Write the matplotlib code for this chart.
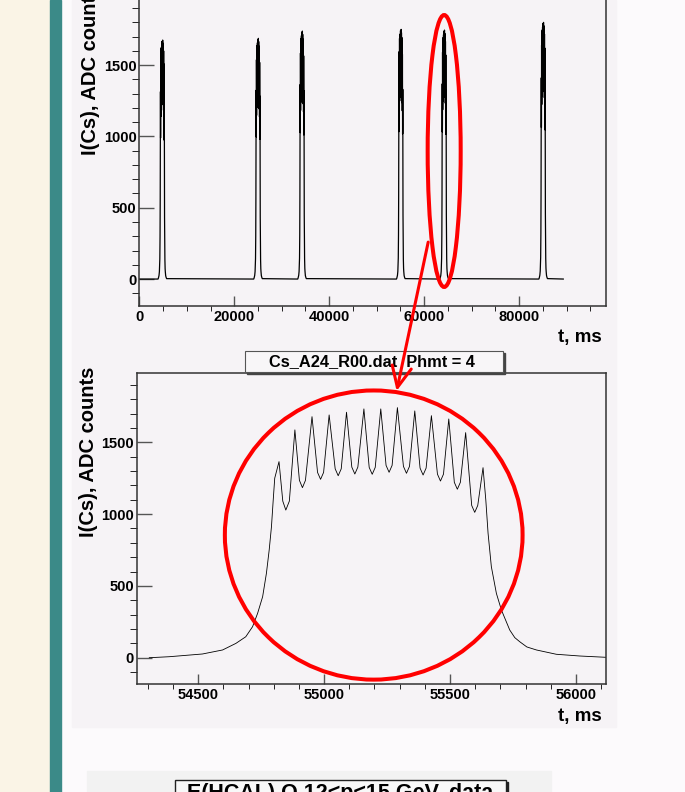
import numpy as np
import matplotlib.pyplot as plt
from matplotlib.patches import Rectangle, Ellipse, ConnectionPatch
from matplotlib.ticker import MultipleLocator

plt.rcParams['font.family'] = ['Liberation Sans', 'DejaVu Sans']
plt.rcParams['font.weight'] = 'bold'

# Waveform of one Cs source pass (ms, ADC counts)
wave_t = [54306, 54385, 54517, 54597, 54650, 54689, 54716, 54736, 54756, 54771,
          54782, 54791, 54798, 54804, 54821,
          54836, 54848, 54862, 54884,
          54902, 54914, 54926, 54952,
          54974, 54986, 54998, 55020,
          55044, 55056, 55068, 55089,
          55110, 55122, 55134, 55158,
          55179, 55191, 55203, 55225,
          55246, 55258, 55270, 55291,
          55315, 55327, 55339, 55360,
          55381, 55393, 55405, 55426,
          55450, 55462, 55474, 55495,
          55517, 55529, 55541, 55562,
          55586, 55598, 55610, 55631,
          55642, 55651, 55664, 55684, 55704, 55737, 55757, 55777, 55805,
          55843, 55922, 56015, 56118]
wave_v = [0, 7, 26, 54, 100, 146, 216, 309, 425, 588,
          750, 912, 1098, 1250, 1365,
          1090, 1028, 1090, 1586,
          1235, 1184, 1235, 1678,
          1290, 1242, 1290, 1690,
          1315, 1267, 1315, 1709,
          1327, 1279, 1327, 1732,
          1325, 1277, 1325, 1732,
          1339, 1291, 1339, 1741,
          1332, 1284, 1332, 1718,
          1320, 1272, 1320, 1685,
          1278, 1230, 1278, 1662,
          1221, 1173, 1221, 1567,
          1060, 1012, 1060, 1323,
          1098, 866, 634, 448, 332, 193, 140, 111, 75,
          54, 24, 12, 3]

# Passes seen over the whole run: time of maximum and maximum amplitude
pass_t = [4926, 25080, 34350, 55150, 64280, 85140]
pass_max = [1676, 1688, 1739, 1751, 1746, 1800]
run_end = 89300

W, H = 685, 792


def box(x0, y0, x1, y1):
    return [x0 / W, 1 - y1 / H, (x1 - x0) / W, (y1 - y0) / H]


fig = plt.figure(figsize=(W / 100, H / 100), dpi=100, facecolor='#fcfafc')

# page decoration
fig.add_artist(Rectangle((0, 0), 50 / W, 1, transform=fig.transFigure,
                         color='#faf4e6', zorder=-10))
fig.add_artist(Rectangle((50 / W, 0), 11 / W, 1, transform=fig.transFigure,
                         color='#3b8a88', zorder=-10))
fig.add_artist(Rectangle(box(72, 0, 616, 727)[:2], 544 / W, 727 / H,
                         transform=fig.transFigure, color='#f6f3f6', zorder=-10))
fig.add_artist(Rectangle(box(87, 771, 551, 800)[:2], 464 / W, 29 / H,
                         transform=fig.transFigure, color='#f2f2f2', zorder=-10))


def style(ax, xmaj, xmin):
    ax.set_facecolor('none')
    for s in ax.spines.values():
        s.set_color('#333333')
        s.set_linewidth(1.1)
    ax.xaxis.set_major_locator(MultipleLocator(xmaj))
    ax.xaxis.set_minor_locator(MultipleLocator(xmin))
    ax.yaxis.set_major_locator(MultipleLocator(500))
    ax.yaxis.set_minor_locator(MultipleLocator(100))
    ax.ticklabel_format(useOffset=False, style='plain')
    ax.tick_params(direction='in', top=False, right=False, colors='#555555',
                   labelcolor='black', labelsize=10.5, width=1)
    ax.tick_params(axis='y', which='major', length=10.8, pad=2)
    ax.tick_params(axis='y', which='minor', length=5)
    ax.tick_params(axis='x', which='major', length=7.2, pad=3)
    ax.tick_params(axis='x', which='minor', length=3.6)
    for lab in ax.get_xticklabels() + ax.get_yticklabels():
        lab.set_fontweight('bold')


# full run
ax1 = fig.add_axes(box(139.3, -3, 606, 306))
rel = np.array(wave_t) - 55291
top_t = [0.0]
top_v = [0.0]
for tc, vm in zip(pass_t, pass_max):
    top_t += list(rel + tc)
    top_v += list(np.array(wave_v) * vm / max(wave_v))
top_t.append(run_end)
top_v.append(0.0)
ax1.plot(top_t, top_v, color='black', lw=0.9)
ax1.set_xlim(0, 98300)
ax1.set_ylim(-189, 1978)
style(ax1, 20000, 5000)

# zoom on one pass
ax2 = fig.add_axes(box(136.7, 373.3, 605.7, 684.3))
ax2.plot(wave_t, wave_v, color='black', lw=0.6)
ax2.set_xlim(54256, 56118)
ax2.set_ylim(-185, 1980)
style(ax2, 500, 100)

fig.text(90 / W, 1 - 70 / H, 'I(Cs), ADC counts', rotation=90, ha='center',
         va='center', fontsize=14.5, fontweight='bold')
fig.text(89 / W, 1 - 452 / H, 'I(Cs), ADC counts', rotation=90, ha='center',
         va='center', fontsize=14.5, fontweight='bold')
fig.text(602 / W, 1 - 338 / H, 't, ms', ha='right', va='center',
         fontsize=13.5, fontweight='bold')
fig.text(602 / W, 1 - 717 / H, 't, ms', ha='right', va='center',
         fontsize=13.5, fontweight='bold')

# title box of the zoomed pad
fig.add_artist(Rectangle(box(247, 353, 505, 374)[:2], 258 / W, 21 / H,
                         transform=fig.transFigure, color='#444444', zorder=2))
fig.add_artist(Rectangle(box(245, 351, 503, 372)[:2], 258 / W, 21 / H,
                         transform=fig.transFigure, facecolor='#f8f6f8',
                         edgecolor='#555555', lw=0.8, zorder=3))
fig.text(372 / W, 1 - 361.5 / H, 'Cs_A24_R00.dat  Phmt = 4', ha='center',
         va='center', fontsize=11.8, fontweight='bold', zorder=4)

# next pad title, cut by the page edge
fig.add_artist(Rectangle(box(177, 782, 508, 800)[:2], 331 / W, 18 / H,
                         transform=fig.transFigure, color='#222222', zorder=2))
fig.add_artist(Rectangle(box(175, 780, 506, 800)[:2], 331 / W, 20 / H,
                         transform=fig.transFigure, facecolor='#f8f8f8',
                         edgecolor='#222222', lw=1, zorder=3))
fig.text(340 / W, 1 - 783 / H, 'E(HCAL) O 12<p<15 GeV, data', ha='center',
         va='top', fontsize=15.5, fontweight='bold', zorder=4)

# highlight marks
ax1.add_patch(Ellipse((64215, 898), 6955, 1907, fill=False, edgecolor='red',
                      lw=2.9, clip_on=False, zorder=5))
ax2.add_patch(Ellipse((55197, 854), 1182, 2013, fill=False, edgecolor='red',
                      lw=2.9, clip_on=False, zorder=5))
con = ConnectionPatch(xyA=(60850, 259), coordsA=ax1.transData,
                      xyB=(55288, 1857), coordsB=ax2.transData,
                      arrowstyle='->,head_length=15,head_width=7',
                      mutation_scale=1, color='red', lw=2.2, zorder=6)
fig.add_artist(con)

fig.savefig('out.png', dpi=100, facecolor=fig.get_facecolor())
